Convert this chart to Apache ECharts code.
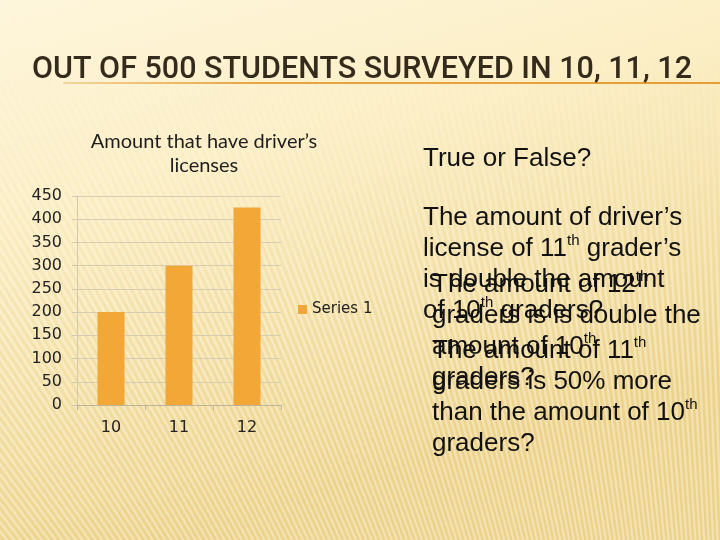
<!DOCTYPE html>
<html lang="en">
<head>
<meta charset="UTF-8">
<title>Amount that have driver's licenses</title>
<script src="https://cdn.jsdelivr.net/npm/echarts@6/dist/echarts.min.js"></script>
<style>
  html, body { margin: 0; padding: 0; }
  #chart { width: 720px; height: 540px; }
</style>
</head>
<body>
<div id="chart"></div>
<script>
// data
const slideTitle = 'OUT OF 500 STUDENTS SURVEYED IN 10, 11, 12';
const chartTitle = 'Amount that have driver’s\nlicenses';
const grades = ['10', '11', '12'];
const series1 = [200, 300, 425];
const seriesName = 'Series 1';
const question = 'True or False?';
const block1 = ['The amount of driver’s', 'license of 11{s|th} grader’s', 'is double the amount', 'of 10{s|th} graders?'];
const block2 = ['The amount of 12{s|th}', 'graders is is double the', 'amount of 10{s|th}', 'graders?'];
const block3 = ['The amount of 11{s|th}', 'graders is 50% more', 'than the amount of 10{s|th}', 'graders?'];

// slide background: warm gradient with faint fanned stripes
function makeBackground() {
  const c = document.createElement('canvas');
  c.width = 720; c.height = 540;
  const g = c.getContext('2d');
  const grad = g.createLinearGradient(0, 0, 150, 540);
  grad.addColorStop(0, '#fef6dc');
  grad.addColorStop(0.4, '#fcefc6');
  grad.addColorStop(1, '#efd692');
  g.fillStyle = grad;
  g.fillRect(0, 0, 720, 540);

  const s = document.createElement('canvas');
  s.width = 720; s.height = 540;
  const sg = s.getContext('2d');
  const px = 760, py = 1500;
  for (let a = -0.08; a < 0.8; a += 0.0046) {
    sg.strokeStyle = 'rgba(255,255,255,0.3)';
    sg.lineWidth = 2;
    sg.beginPath();
    sg.moveTo(px, py);
    sg.lineTo(px - Math.sin(a) * 2200, py - Math.cos(a) * 2200);
    sg.stroke();
  }
  for (let a = -0.0777; a < 0.8; a += 0.0046) {
    sg.strokeStyle = 'rgba(190,150,60,0.07)';
    sg.lineWidth = 1.5;
    sg.beginPath();
    sg.moveTo(px, py);
    sg.lineTo(px - Math.sin(a) * 2200, py - Math.cos(a) * 2200);
    sg.stroke();
  }
  sg.globalCompositeOperation = 'destination-in';
  const mask = sg.createLinearGradient(0, 40, 0, 300);
  mask.addColorStop(0, 'rgba(0,0,0,0)');
  mask.addColorStop(1, 'rgba(0,0,0,1)');
  sg.fillStyle = mask;
  sg.fillRect(0, 0, 720, 540);
  g.drawImage(s, 0, 0);
  return c;
}

// narrow the slide title to the width it has on the slide
const titleFont = '500 31px Roboto';
const mctx = document.createElement('canvas').getContext('2d');
mctx.font = titleFont;
const titleScale = 660 / mctx.measureText(slideTitle).width;

const bodyFont = 'Liberation Sans';
const supStyle = { fontSize: 15, lineHeight: 18, verticalAlign: 'top', fontFamily: bodyFont, fill: '#111' };

function textBlock(lines, x, y) {
  return {
    type: 'text',
    x: x,
    y: y,
    silent: true,
    style: {
      text: lines.join('\n'),
      fontFamily: bodyFont,
      fontSize: 26,
      lineHeight: 31,
      fill: '#111',
      textVerticalAlign: 'top',
      verticalAlign: 'top',
      rich: { s: supStyle }
    }
  };
}

const myChart = echarts.init(document.getElementById('chart'));

const option = {
  backgroundColor: { image: makeBackground(), repeat: 'no-repeat' },
  animation: false,
  legend: {
    data: [seriesName],
    left: 298,
    top: 302,
    padding: 0,
    icon: 'rect',
    itemWidth: 9,
    itemHeight: 9,
    textStyle: { fontFamily: 'DejaVu Sans', fontSize: 15, color: '#222' }
  },
  grid: { left: 77, right: 439, top: 196, bottom: 135 },
  xAxis: {
    type: 'category',
    data: grades,
    axisLine: { lineStyle: { color: '#bdb49c' } },
    axisTick: { show: true, length: 5, lineStyle: { color: '#bdb49c' } },
    axisLabel: { fontFamily: 'DejaVu Sans', fontSize: 16, color: '#222', margin: 15 }
  },
  yAxis: {
    type: 'value',
    min: 0,
    max: 450,
    interval: 50,
    axisLine: { show: true, lineStyle: { color: '#d3caae' } },
    axisTick: { show: true, length: 5, lineStyle: { color: '#d3caae' } },
    axisLabel: { fontFamily: 'DejaVu Sans', fontSize: 16, color: '#222', margin: 15 },
    splitLine: { lineStyle: { color: '#d6cdb2' } }
  },
  series: [
    {
      name: seriesName,
      type: 'bar',
      data: series1,
      barWidth: 27,
      itemStyle: { color: '#f2a737' }
    }
  ],
  graphic: [
    {
      type: 'line',
      silent: true,
      shape: { x1: 63, y1: 83, x2: 720, y2: 83 },
      style: {
        lineWidth: 2,
        stroke: new echarts.graphic.LinearGradient(0, 0, 1, 0, [
          { offset: 0, color: 'rgba(228,160,60,0.35)' },
          { offset: 0.3, color: '#e6a444' },
          { offset: 1, color: '#e39d35' }
        ])
      }
    },
    {
      type: 'text',
      x: 32,
      y: 70,
      scaleX: titleScale,
      silent: true,
      style: {
        text: slideTitle,
        font: titleFont,
        fill: '#352b1d',
        textVerticalAlign: 'middle',
        verticalAlign: 'middle'
      }
    },
    {
      type: 'text',
      x: 204,
      y: 154,
      silent: true,
      style: {
        text: chartTitle,
        fontFamily: 'Lato',
        fontSize: 20,
        lineHeight: 24,
        fill: '#1e1e1e',
        textAlign: 'center',
        align: 'center',
        textVerticalAlign: 'middle',
        verticalAlign: 'middle'
      }
    },
    {
      type: 'text',
      x: 423,
      y: 159,
      silent: true,
      style: {
        text: question,
        fontFamily: bodyFont,
        fontSize: 26,
        fill: '#111',
        textVerticalAlign: 'middle',
        verticalAlign: 'middle'
      }
    },
    textBlock(block1, 423, 202.5),
    textBlock(block2, 432, 269.5),
    textBlock(block3, 432, 335.5)
  ]
};

myChart.setOption(option);
</script>
</body>
</html>
